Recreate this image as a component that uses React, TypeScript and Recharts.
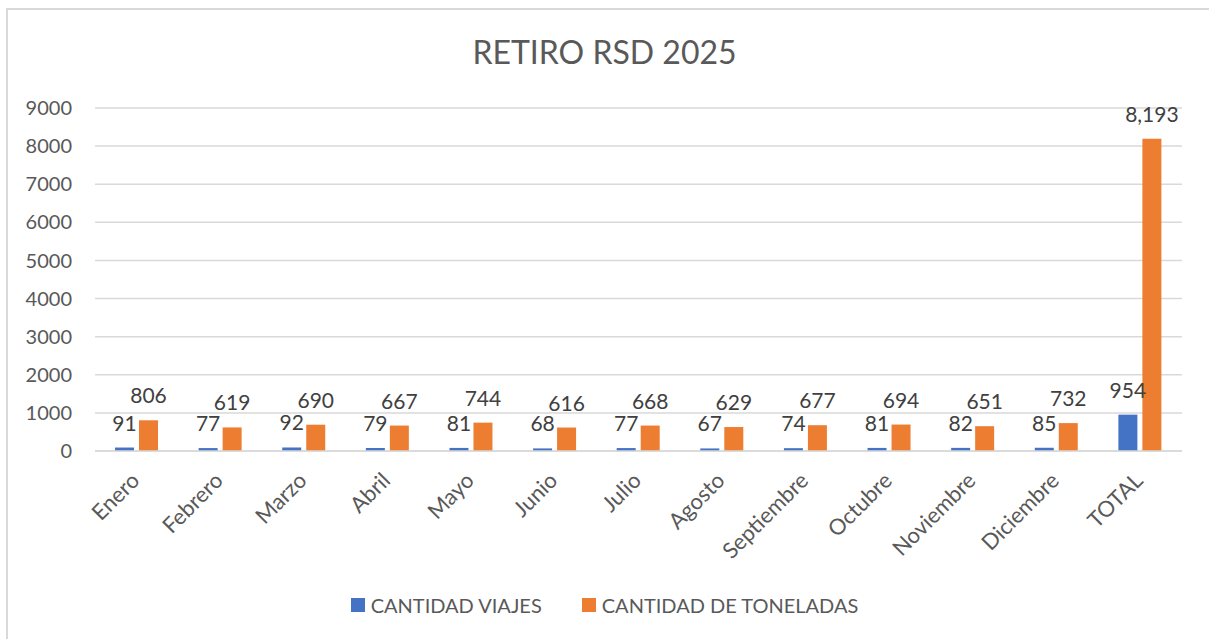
import { BarChart, Bar, XAxis, YAxis, CartesianGrid, Legend, LabelList } from 'recharts'

const months = [
  'Enero', 'Febrero', 'Marzo', 'Abril', 'Mayo', 'Junio', 'Julio',
  'Agosto', 'Septiembre', 'Octubre', 'Noviembre', 'Diciembre', 'TOTAL',
]
const viajes = [91, 77, 92, 79, 81, 68, 77, 67, 74, 81, 82, 85, 954]
const toneladas = [806, 619, 690, 667, 744, 616, 668, 629, 677, 694, 651, 732, 8193]
const yTicks = [0, 1000, 2000, 3000, 4000, 5000, 6000, 7000, 8000, 9000]

const data = months.map((m, i) => ({ mes: m, viajes: viajes[i], toneladas: toneladas[i] }))

const FONT = 'Lato, "Open Sans", sans-serif'
const GREY = '#595959'
const BLUE = '#4472C4'
const ORANGE = '#ED7D31'

const fmt = (v: number) => v.toLocaleString('en-US')

function MonthTick({ x, y, payload }: any) {
  const tx = x + 4
  return (
    <text
      x={tx}
      y={y}
      textAnchor="end"
      fill={GREY}
      fontSize={22}
      fontFamily={FONT}
      transform={`rotate(-45, ${tx}, ${y})`}
    >
      {payload.value}
    </text>
  )
}

function LegendBox() {
  const items = [
    { name: 'CANTIDAD VIAJES', color: BLUE },
    { name: 'CANTIDAD DE TONELADAS', color: ORANGE },
  ]
  return (
    <div style={{ display: 'flex', justifyContent: 'center', gap: 40, fontFamily: FONT, fontSize: 20, color: GREY }}>
      {items.map((it) => (
        <div key={it.name} style={{ display: 'flex', alignItems: 'center' }}>
          <span style={{ width: 14, height: 14, background: it.color, marginRight: 6, display: 'inline-block' }} />
          <span>{it.name}</span>
        </div>
      ))}
    </div>
  )
}

export default function App() {
  return (
    <div style={{ position: 'absolute', left: 0, top: 0, width: 1209, height: 639, background: '#fff' }}>
      <div
        style={{
          position: 'absolute', left: 6, top: 8, width: 1203, height: 631,
          borderTop: '2px solid #d9d9d9', borderLeft: '2px solid #d9d9d9', boxSizing: 'border-box',
        }}
      />
      <div
        style={{
          position: 'absolute', left: 0, top: 32, width: 1209, textAlign: 'center',
          fontFamily: FONT, fontSize: 32, color: GREY,
        }}
      >
        RETIRO RSD 2025
      </div>
      <div style={{ position: 'absolute', left: 0, top: 0 }}>
        <BarChart
          width={1209}
          height={639}
          data={data}
          margin={{ top: 108, right: 27, left: 0, bottom: 88 }}
          barSize={19}
          barGap={5}
        >
          <CartesianGrid vertical={false} stroke="#d9d9d9" strokeWidth={1.5} />
          <XAxis
            dataKey="mes"
            interval={0}
            height={100}
            tickLine={false}
            axisLine={{ stroke: '#d9d9d9', strokeWidth: 1.5 }}
            tickMargin={25}
            tick={<MonthTick />}
          />
          <YAxis
            width={95}
            domain={[0, 9000]}
            ticks={yTicks}
            tickLine={false}
            axisLine={false}
            tickMargin={17}
            tick={{ fill: GREY, fontSize: 20, fontFamily: FONT }}
          />
          <Legend
            verticalAlign="middle"
            layout="horizontal"
            content={<LegendBox />}
            wrapperStyle={{ position: 'absolute', top: 593, left: 0, width: 1209 }}
          />
          <Bar dataKey="viajes" name="CANTIDAD VIAJES" fill={BLUE} isAnimationActive={false}>
            <LabelList dataKey="viajes" position="top" offset={17} fill="#404040" fontSize={21} fontFamily={FONT} formatter={fmt} />
          </Bar>
          <Bar dataKey="toneladas" name="CANTIDAD DE TONELADAS" fill={ORANGE} isAnimationActive={false}>
            <LabelList dataKey="toneladas" position="top" offset={17} fill="#404040" fontSize={21} fontFamily={FONT} formatter={fmt} />
          </Bar>
        </BarChart>
      </div>
    </div>
  )
}
